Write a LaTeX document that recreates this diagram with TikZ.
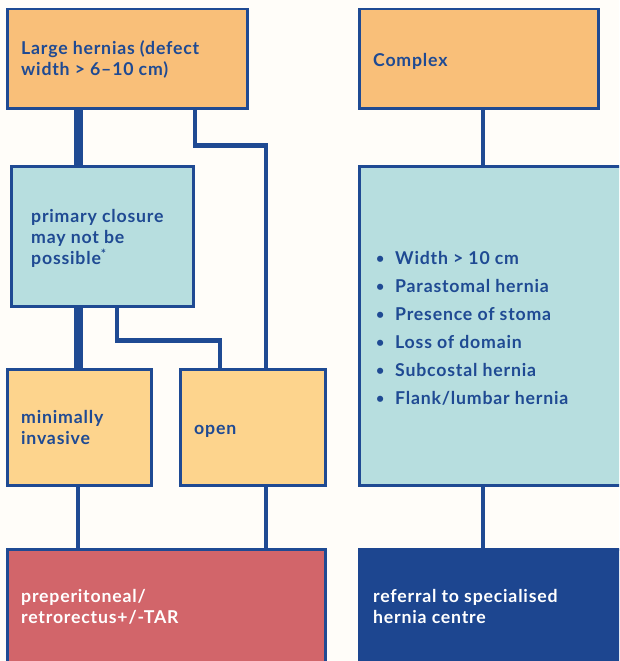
\documentclass[tikz,border=0pt]{standalone}
\usepackage{fontspec}
\setmainfont{Lato}[LetterSpace=4.5]
\definecolor{dblue}{HTML}{1F4A93}
\definecolor{navy}{HTML}{1D4690}
\definecolor{orng}{HTML}{F9BF79}
\definecolor{lorng}{HTML}{FDD48D}
\definecolor{cyanbox}{HTML}{B7DEDF}
\definecolor{redbox}{HTML}{D2656A}
\definecolor{bgc}{HTML}{FFFDF9}
\tikzset{
  box/.style={draw=dblue, line width=2.5pt, rectangle, inner sep=0pt, anchor=north west},
  lbl/.style={inner sep=0pt, align=left, anchor=west, text=dblue,
    font=\bfseries\fontsize{17.7}{21}\selectfont},
  thinconn/.style={draw=dblue, line width=4.3pt},
  thickconn/.style={draw=dblue, line width=9pt},
}
\newcommand{\bul}{\makebox[19pt][l]{\raisebox{1pt}{\scalebox{0.8}{•}}}}
\begin{document}
\begin{tikzpicture}[x=1pt,y=-1pt]
\useasboundingbox (0,0) rectangle (619,661);
\clip (0,0) rectangle (619,661);
\fill[bgc] (0,0) rectangle (619,661);
% boxes
\node[box, fill=orng, minimum width=240pt, minimum height=99pt] (L) at (6,8) {};
\node[box, fill=orng, minimum width=239pt, minimum height=99pt] (C) at (358,8) {};
\node[box, fill=cyanbox, minimum width=182pt, minimum height=140pt] (P) at (10,165) {};
\node[box, fill=cyanbox, minimum width=270pt, minimum height=319pt] (K) at (358,165) {};
\node[box, fill=lorng, minimum width=144pt, minimum height=116pt] (M) at (6,368) {};
\node[box, fill=lorng, minimum width=145pt, minimum height=116pt] (O) at (179,368) {};
\node[box, fill=redbox, minimum width=318pt, minimum height=116pt] (R) at (6,548) {};
\node[box, draw=navy, fill=navy, minimum width=270pt, minimum height=116pt] (N) at (358,548) {};
% texts
\node[lbl] (Lt) at (21,59.5) {Large hernias (defect\\width > 6--10 cm)};
\node[lbl] (Ct) at (373,61.5) {Complex};
\node[lbl] (Pt) at (31,238.5) {primary closure\\may not be\\possible\textsuperscript{*}};
\node[lbl, font=\bfseries\fontsize{17.7}{28}\selectfont] (Kt) at (376,328) {\bul Width > 10 cm\\\bul Parastomal hernia\\\bul Presence of stoma\\\bul Loss of domain\\\bul Subcostal hernia\\\bul Flank/lumbar hernia};
\node[lbl] (Mt) at (21,427.5) {minimally\\invasive};
\node[lbl] (Ot) at (194,431) {open};
\node[lbl, text=white] (Rt) at (21,607) {preperitoneal/\\retrorectus+/-TAR};
\node[lbl, text=white] (Nt) at (373,606.5) {referral to specialised\\hernia centre};
% connectors
\draw[thickconn] ([xshift=72pt]L.south west) -- ([xshift=68pt]P.north west);
\draw[thickconn] ([xshift=68pt]P.south west) -- ([xshift=72pt]M.north west);
\draw[thinconn] ([xshift=189pt]L.south west) -- ++(0,36) -| ([xshift=87pt]O.north west);
\draw[thinconn] ([xshift=107pt]P.south west) -- ++(0,33) -| ([xshift=41pt]O.north west);
\draw[thinconn] ([xshift=72pt]M.south west) -- ([xshift=72pt]R.north west);
\draw[thinconn] ([xshift=87pt]O.south west) -- ([xshift=260pt]R.north west);
\draw[thinconn] ([xshift=125pt]C.south west) -- ([xshift=125pt]K.north west);
\draw[thinconn] ([xshift=125pt]K.south west) -- ([xshift=125pt]N.north west);
\end{tikzpicture}
\end{document}
